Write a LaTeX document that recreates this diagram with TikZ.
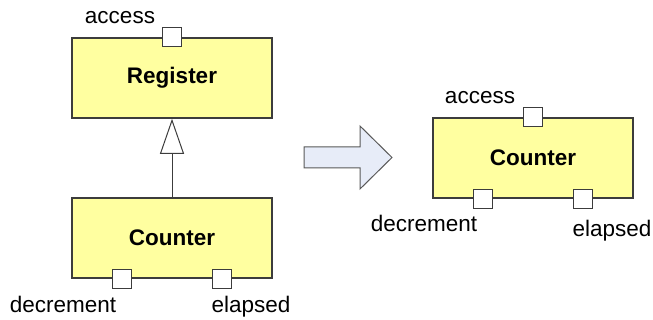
\documentclass[tikz,border=0pt]{standalone}
\usepackage{fontspec}
\setmainfont{Liberation Sans}
\usepackage{tikz}
\usetikzlibrary{arrows.meta}

\definecolor{boxfill}{RGB}{255,255,160}
\definecolor{boxline}{RGB}{60,60,60}
\definecolor{arrowfill}{RGB}{231,236,248}

\begin{document}
\begin{tikzpicture}[x=0.5pt, y=-0.5pt,
		every node/.style={font=\fontsize{11.25}{13.5}\selectfont},
		block/.style={draw=boxline, line width=0.8pt, fill=boxfill, minimum width=100pt, minimum height=40pt, inner sep=0pt, font=\fontsize{11.25}{13.5}\selectfont\bfseries},
		port/.style={draw=boxline, line width=0.6pt, fill=white, minimum size=9.5pt, inner sep=0pt},
		lbl/.style={anchor=base, inner sep=0pt}]
	\useasboundingbox (0,0) rectangle (653,320);

	% --- LEFT: REGISTER AND COUNTER ---
	\node[block] (register) at (172,78) {Register};
	\node[port] (regaccess) at (register.north) {};
	\node[lbl] (regaccesslbl) at (120,24) {access};

	\node[block] (counterl) at (172,238) {Counter};
	\node[port] (ldec) at ([xshift=-25pt]counterl.south) {};
	\node[port] (lela) at ([xshift=25pt]counterl.south) {};
	\node[lbl] (ldeclbl) at (63,313) {decrement};
	\node[lbl] (lelalbl) at (251,313) {elapsed};

	% Inheritance
	\draw[boxline, line width=0.5pt, -{Triangle[open, length=17.5pt, width=12pt]}] (counterl) -- (register);

	% Transformation arrow
	\draw[gray!70!black, line width=0.5pt, fill=arrowfill]
		(304,147) -- (360,147) -- (360,126) -- (392,157.5) -- (360,189) -- (360,168) -- (304,168) -- cycle;

	% --- RIGHT: FLATTENED COUNTER ---
	\node[block] (counterr) at (533,158) {Counter};
	\node[port] (raccess) at (counterr.north) {};
	\node[port] (rdec) at ([xshift=-25pt]counterr.south) {};
	\node[port] (rela) at ([xshift=25pt]counterr.south) {};
	\node[lbl] (raccesslbl) at (480,104) {access};
	\node[lbl] (rdeclbl) at (424,232) {decrement};
	\node[lbl] (relalbl) at (612,237) {elapsed};
\end{tikzpicture}
\end{document}
